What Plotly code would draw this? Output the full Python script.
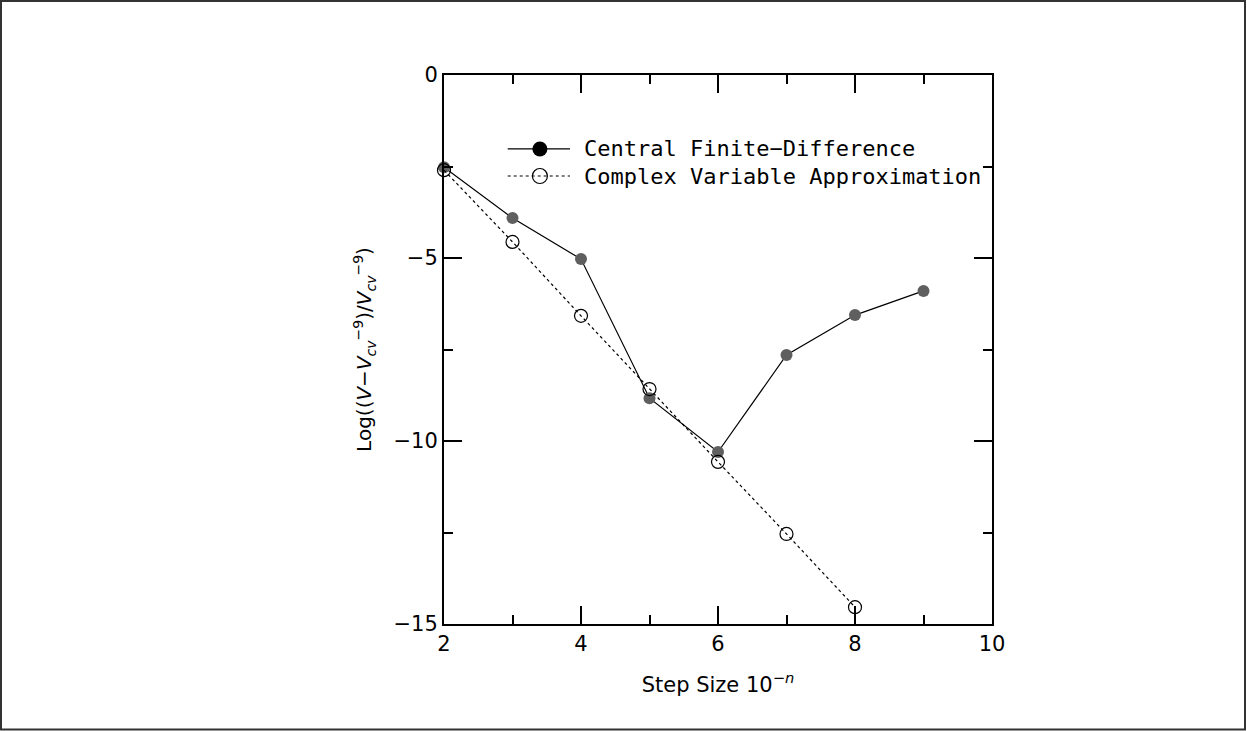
import plotly.graph_objects as go

steps = [2, 3, 4, 5, 6, 7, 8, 9]
central_fd = [-2.52, -3.91, -5.03, -8.83, -10.30, -7.65, -6.56, -5.90]
cv_steps = [2, 3, 4, 5, 6, 7, 8]
complex_var = [-2.60, -4.56, -6.58, -8.58, -10.57, -12.54, -14.54]
legend_labels = ["Central Finite\u2212Difference", "Complex Variable Approximation"]

FONT = "DejaVu Sans"
LEG_FONT = "DejaVu Sans Mono"

fig = go.Figure()
fig.add_trace(go.Scatter(
    x=steps, y=central_fd, mode="lines+markers",
    line=dict(color="black", width=1.2),
    marker=dict(symbol="circle", size=12, color="#5f5f5f"),
    cliponaxis=False, showlegend=False))
fig.add_trace(go.Scatter(
    x=cv_steps, y=complex_var, mode="lines+markers",
    line=dict(color="black", width=1.2, dash="dot"),
    marker=dict(symbol="circle-open", size=13, color="black", line=dict(width=1.2)),
    cliponaxis=False, showlegend=False))

# legend samples (in data coordinates)
leg_x = [2.93, 3.84]
leg_mx = 3.40
leg_y = [-2.02, -2.76]
fig.add_trace(go.Scatter(x=leg_x, y=[leg_y[0]] * 2, mode="lines",
                         line=dict(color="black", width=1.2), showlegend=False))
fig.add_trace(go.Scatter(x=[leg_mx], y=[leg_y[0]], mode="markers",
                         marker=dict(symbol="circle", size=15, color="black"), showlegend=False))
fig.add_trace(go.Scatter(x=leg_x, y=[leg_y[1]] * 2, mode="lines",
                         line=dict(color="black", width=1.2, dash="dot"), showlegend=False))
fig.add_trace(go.Scatter(x=[leg_mx], y=[leg_y[1]], mode="markers",
                         marker=dict(symbol="circle-open", size=15, color="black",
                                     line=dict(width=1.2)), showlegend=False))
for lbl, yy in zip(legend_labels, leg_y):
    fig.add_annotation(x=4.01, y=yy, text=lbl, showarrow=False, xanchor="left",
                       yanchor="middle", font=dict(family=LEG_FONT, size=22, color="black"))

axis_common = dict(showline=True, linecolor="black", linewidth=2, mirror="allticks",
                   ticks="inside", ticklen=18, tickwidth=1.5, tickcolor="black",
                   showgrid=False, zeroline=False,
                   tickfont=dict(family=FONT, size=21, color="black"))

fig.update_xaxes(range=[2, 10], dtick=2, tick0=2,
                 minor=dict(ticks="inside", ticklen=9, dtick=1, tickwidth=1.5, tickcolor="black"),
                 title=dict(text="Step Size 10<sup>\u2212<i>n</i></sup>",
                            font=dict(family=FONT, size=21, color="black"), standoff=22),
                 **axis_common)
fig.update_yaxes(range=[-15, 0], dtick=5, tick0=0,
                 minor=dict(ticks="inside", ticklen=9, dtick=2.5, tickwidth=1.5, tickcolor="black"),
                 title=dict(text="Log((<i>V</i>\u2212<i>V</i><sub><i>cv</i></sub><sup>\u22129</sup>)/<i>V</i><sub><i>cv</i></sub><sup>\u22129</sup>)",
                            font=dict(family=FONT, size=20, color="black"), standoff=16),
                 **axis_common)

fig.update_layout(
    width=1247, height=731,
    margin=dict(l=444, r=255, t=75, b=107),
    paper_bgcolor="white", plot_bgcolor="white",
    showlegend=False,
    shapes=[dict(type="rect", xref="paper", yref="paper",
                 x0=(1 - 444) / 548, x1=(1245 - 444) / 548,
                 y0=(624 - 729.5) / 549, y1=(624 - 1) / 549,
                 line=dict(color="#333333", width=2), layer="below")],
)

fig.write_html("out.html", config={"displayModeBar": False},
               post_script="document.body.style.margin='0px';document.body.style.overflow='hidden';")
